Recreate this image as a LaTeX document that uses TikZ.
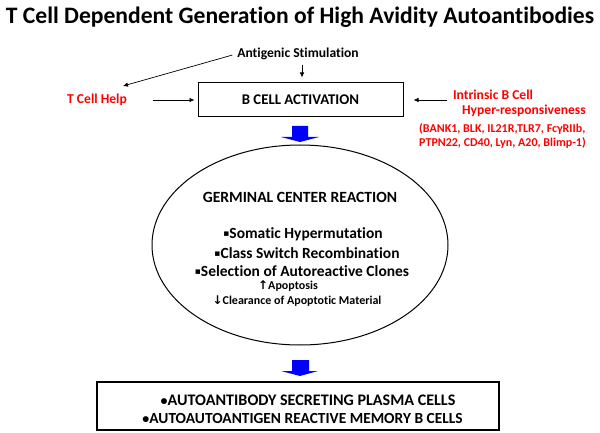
\documentclass[tikz,border=0pt]{standalone}
\usepackage{fontspec}
\setmainfont{Carlito}[Ligatures=CommonOff]
\newfontfamily\symf{DejaVu Sans}
\usetikzlibrary{arrows.meta,shapes.geometric}
\tikzset{
  txt/.style={inner sep=1pt, font=\bfseries},
  redtxt/.style={txt, text=red},
  arr/.style={-{Latex[length=5pt,width=4.5pt]}, line width=0.7pt},
  boxed/.style={draw, line width=1pt, inner sep=0pt},
  blockarrow/.style={fill=blue, draw=none}
}
\newcommand{\fs}[1]{\fontsize{#1}{#1}\selectfont}
\newcommand{\sqb}{{\symf\fs{9}\raisebox{1.5pt}{▪}}}
\begin{document}
\begin{tikzpicture}[x=1pt,y=-1pt]
\useasboundingbox (0,0) rectangle (600,433);
% title
\node[txt] (title) at (300,17) {\fs{23.6}T Cell Dependent Generation of High Avidity Autoantibodies};
% top row
\node[txt] (ag) at (298,54) {\fs{13.6}Antigenic Stimulation};
\node[boxed, minimum width=205pt, minimum height=34pt] (bca) at (300.5,100) {};
\node[txt] (bcat) at (bca.center) {\fs{14.8}B CELL ACTIVATION};
\node[redtxt] (tch) at (97,100) {\fs{13.6}T Cell Help};
\node[redtxt] (ib1) at (493,95) {\fs{13.6}Intrinsic B Cell};
\node[redtxt] (ib2) at (524,111) {\fs{13.6}Hyper-responsiveness};
\node[redtxt, anchor=west] (ib3) at (418,129) {\fs{12}(BANK1, BLK, IL21R,TLR7, FcγRIIb,};
\node[redtxt, anchor=west] (ib4) at (418,143) {\fs{12}PTPN22, CD40, Lyn, A20, Blimp-1)};
% connectors
\coordinate (tchtip) at (123,86);
\draw[arr, shorten <=4pt] (ag.west) -- (tchtip);
\draw[arr, shorten <=4pt, shorten >=5pt] ([xshift=4pt]ag.south) -- ([xshift=4pt]ag.south |- bca.north);
\draw[arr, shorten <=25pt, shorten >=3pt] (tch.east) -- (bca.west);
\draw[arr, shorten <=5pt, shorten >=10pt] (bca.east -| ib1.west) -- (bca.east);
% block arrow 1
\fill[blockarrow] (292,126) -- (308,126) -- (308,137) -- (319,137) -- (300,142) -- (281,137) -- (292,137) -- cycle;
% germinal center
\node[draw, ellipse, line width=1pt, minimum width=296pt, minimum height=200pt] (gc) at (300,245) {};
\node[txt] (gcr) at (300,197) {\fs{15.6}GERMINAL CENTER REACTION};
\node[txt] (s1) at (303,234) {\fs{15.5}\sqb Somatic Hypermutation};
\node[txt] (s2) at (307,253) {\fs{15.5}\sqb Class Switch Recombination};
\node[txt] (s3) at (302,271) {\fs{15.5}\sqb Selection of Autoreactive Clones};
\node[txt] (a1) at (288,286) {\fs{12}{\symf ↑}Apoptosis};
\node[txt] (a2) at (297,301) {\fs{12}{\symf ↓}Clearance of Apoptotic Material};
% block arrow 2
\fill[blockarrow] (292,360) -- (309,360) -- (309,371) -- (318,371) -- (300,376) -- (281,371) -- (292,371) -- cycle;
% outcome box
\node[boxed, line width=1.2pt, minimum width=402pt, minimum height=48pt] (out) at (298,406) {};
\node[txt] (o1) at (308,400) {\fs{16.1}{\fs{14}\textbullet}AUTOANTIBODY SECRETING PLASMA CELLS};
\node[txt] (o2) at (302.5,419) {\fs{15.4}{\fs{14}\textbullet}AUTOAUTOANTIGEN REACTIVE MEMORY B CELLS};
\end{tikzpicture}
\end{document}
